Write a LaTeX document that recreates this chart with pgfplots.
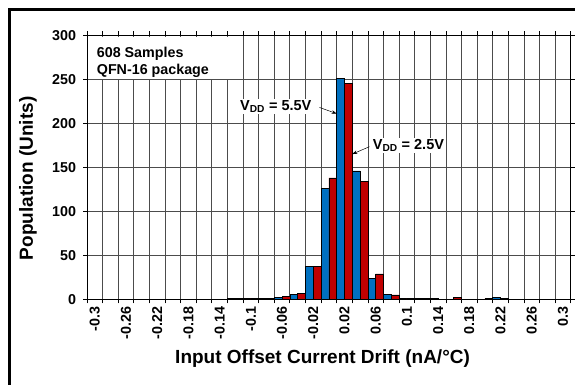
\documentclass[border=0pt]{standalone}
\usepackage{fontspec}
\setmainfont{Liberation Sans}
\usepackage{pgfplots}
\pgfplotsset{compat=1.18}
\usetikzlibrary{arrows.meta}
\definecolor{barblue}{RGB}{0,112,192}
\definecolor{barred}{RGB}{192,0,0}
\begin{document}
\begin{tikzpicture}
\useasboundingbox (0,0) rectangle (575pt,385pt);
\draw[line width=2.5pt] (9.5pt,0) -- (9.5pt,375.5pt) -- (575pt,375.5pt);
\begin{axis}[
  at={(87pt,85.7pt)}, anchor=south west,
  scale only axis, width=483.7pt, height=264pt,
  xmin=-0.5, xmax=30.5, ymin=0, ymax=300,
  ybar,
  ytick={0,50,...,300},
  xtick={-0.5,0.5,...,30.5}, xticklabels={},
  extra x ticks={0,2,...,30},
  extra x tick labels={-0.3,-0.26,-0.22,-0.18,-0.14,-0.1,-0.06,-0.02,0.02,0.06,0.1,0.14,0.18,0.22,0.26,0.3},
  extra x tick style={major tick length=0pt, grid=none},
  xmajorgrids, ymajorgrids,
  grid style={black!70, line width=0.7pt},
  tick align=outside, major tick length=4pt,
  tick style={black, line width=0.7pt},
  axis line style={black, line width=0.9pt},
  /pgf/number format/assume math mode=true,
  tick label style={font=\fontsize{14.3}{16}\selectfont\bfseries},
  xticklabel style={rotate=90, anchor=east},
  xticklabel shift=4pt,
  yticklabel style={xshift=-3.5pt},
  xlabel={Input Offset Current Drift (nA/°C)},
  ylabel={Population (Units)},
  xlabel style={at={(axis description cs:0.487,-0.226)}, anchor=center, font=\fontsize{19}{22}\selectfont\bfseries},
  ylabel style={at={(axis description cs:-0.122,0.458)}, anchor=center, font=\fontsize{19}{22}\selectfont\bfseries},
]
\addplot[bar width=0.5, bar shift=-0.25, fill=barblue, draw=black, line width=0.5pt] coordinates {
  (9,1) (10,1) (11,1) (12,2) (13,6) (14,37) (15,126) (16,251) (17,146) (18,24) (19,6) (20,1) (21,1) (22,1) (26,2)
};
\addplot[bar width=0.5, bar shift=0.25, fill=barred, draw=black, line width=0.5pt] coordinates {
  (9,1) (10,1) (11,1) (12,3) (13,7) (14,37) (15,138) (16,245) (17,134) (18,29) (19,5) (20,1) (21,1) (23,2) (25,1) (26,1)
};
\fill[white] (axis cs:-0.46,250.8) rectangle (axis cs:8.55,297.5);
\node[anchor=north west, align=left, inner sep=0pt, font=\fontsize{14.3}{17}\selectfont\bfseries] at (axis cs:0.12,286.3) {608 Samples\\QFN-16 package};
\node[fill=white, inner sep=1.5pt, font=\fontsize{14.5}{17}\selectfont\bfseries] at (axis cs:11.6,219) {V\textsubscript{DD} = 5.5V};
\node[fill=white, inner sep=1.5pt, font=\fontsize{14.5}{17}\selectfont\bfseries] at (axis cs:20.1,174.8) {V\textsubscript{DD} = 2.5V};
\draw[line width=0.5pt, -{Stealth[length=5pt,width=3.5pt]}] (axis cs:14.4,218) -- (axis cs:15.5,211);
\draw[line width=0.5pt, -{Stealth[length=5pt,width=3.5pt]}] (axis cs:17.6,173.4) -- (axis cs:16.5,165);
\end{axis}
\end{tikzpicture}
\end{document}
